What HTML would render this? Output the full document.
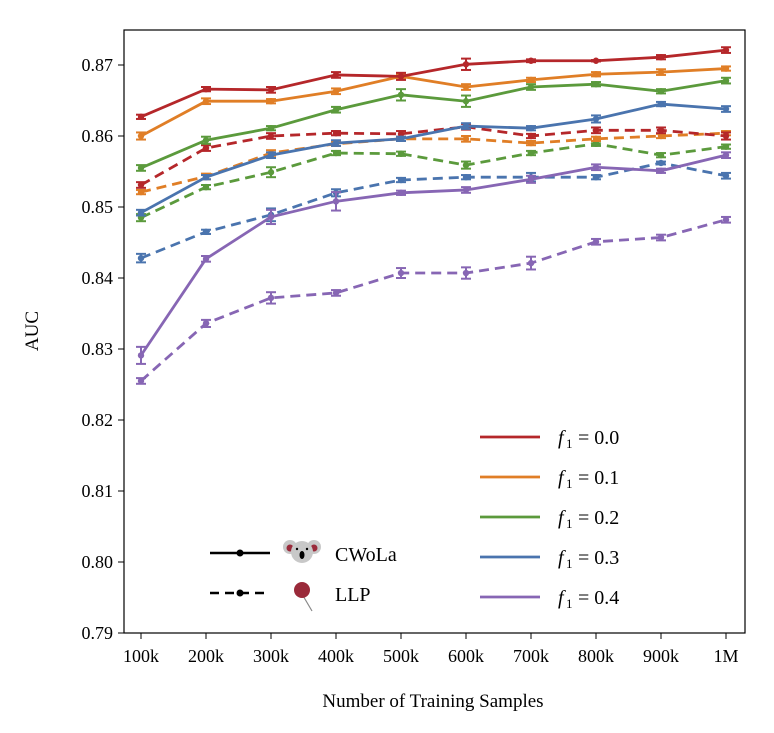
<!DOCTYPE html>
<html><head><meta charset="utf-8"><style>
html,body{margin:0;padding:0;background:#fff;}
svg{display:block;font-family:"Liberation Serif",serif;}
</style></head><body>
<svg id="chart" width="774" height="733">
<rect x="0" y="0" width="774" height="733" fill="#fff"/>
<g id="marks"></g>
<rect x="124" y="30" width="621" height="603" fill="none" stroke="#000" stroke-width="1.2"/>
<g id="axes" font-size="18"></g>
<text x="433" y="707" font-size="19" text-anchor="middle">Number of Training Samples</text>
<text transform="translate(38,331) rotate(-90)" font-size="19" text-anchor="middle">AUC</text>
<g id="legend" font-size="20"></g>
<g>
  <line x1="210" y1="553" x2="270" y2="553" stroke="#000" stroke-width="2.5"/>
  <circle cx="240" cy="553" r="3.5" fill="#000"/>
  <line x1="210" y1="593" x2="270" y2="593" stroke="#000" stroke-width="2.5" stroke-dasharray="9,6"/>
  <circle cx="240" cy="593" r="3.5" fill="#000"/>
  <g>
    <circle cx="290" cy="547" r="7" fill="#c8c8c8"/><circle cx="314" cy="547" r="7" fill="#c8c8c8"/>
    <circle cx="290" cy="548" r="3.5" fill="#9a2a3a"/><circle cx="314" cy="548" r="3.5" fill="#9a2a3a"/>
    <ellipse cx="302" cy="552" rx="11" ry="11" fill="#c8c8c8"/>
    <circle cx="297" cy="549" r="1.2" fill="#000"/><circle cx="307" cy="549" r="1.2" fill="#000"/>
    <ellipse cx="302" cy="555" rx="2.5" ry="4" fill="#000"/>
  </g>
  <g>
    <line x1="302" y1="594" x2="312" y2="611" stroke="#888" stroke-width="1.2"/>
    <circle cx="302" cy="590" r="8" fill="#9a2a3a"/>
  </g>
  <text x="335" y="561" font-size="20">CWoLa</text>
  <text x="335" y="601" font-size="20">LLP</text>
</g>
<script>
const categories=["100k","200k","300k","400k","500k","600k","700k","800k","900k","1M"];
const yTicks=[0.79,0.80,0.81,0.82,0.83,0.84,0.85,0.86,0.87];
const seriesNames=["0.0","0.1","0.2","0.3","0.4"];
const colors=["#b5272a","#e07e26","#5b9a3c","#4a74ae","#8766b4"];
const cwola0=[0.8627,0.8666,0.8665,0.8686,0.8684,0.8701,0.8706,0.8706,0.8711,0.8721];
const cwola1=[0.8600,0.8649,0.8649,0.8663,0.8684,0.8669,0.8679,0.8687,0.8690,0.8695];
const cwola2=[0.8555,0.8594,0.8611,0.8637,0.8658,0.8649,0.8669,0.8673,0.8663,0.8678];
const cwola3=[0.8492,0.8542,0.8573,0.8590,0.8596,0.8614,0.8611,0.8624,0.8645,0.8638];
const cwola4=[0.8291,0.8427,0.8486,0.8508,0.8520,0.8524,0.8539,0.8556,0.8551,0.8573];
const llp0=[0.8531,0.8583,0.8600,0.8604,0.8603,0.8613,0.8600,0.8608,0.8608,0.8600];
const llp1=[0.8521,0.8543,0.8576,0.8589,0.8596,0.8596,0.8590,0.8596,0.8600,0.8604];
const llp2=[0.8485,0.8528,0.8549,0.8576,0.8575,0.8559,0.8576,0.8589,0.8573,0.8585];
const llp3=[0.8428,0.8465,0.8489,0.8520,0.8538,0.8542,0.8542,0.8542,0.8562,0.8544];
const llp4=[0.8255,0.8336,0.8372,0.8379,0.8407,0.8407,0.8421,0.8451,0.8457,0.8482];
const cwolaErr=[[0.0003,0.0003,0.0004,0.0004,0.0005,0.0008,0.0002,0.0001,0.0003,0.0004],
[0.0005,0.0004,0.0003,0.0004,0.0003,0.0004,0.0003,0.0003,0.0004,0.0003],
[0.0004,0.0005,0.0003,0.0004,0.0008,0.0008,0.0004,0.0003,0.0003,0.0004],
[0.0004,0.0003,0.0004,0.0004,0.0003,0.0004,0.0003,0.0005,0.0003,0.0004],
[0.0012,0.0004,0.0010,0.0013,0.0003,0.0004,0.0005,0.0004,0.0003,0.0004]];
const llpErr=[[0.0004,0.0004,0.0004,0.0003,0.0004,0.0004,0.0003,0.0004,0.0004,0.0005],
[0.0003,0.0004,0.0004,0.0003,0.0003,0.0004,0.0003,0.0003,0.0003,0.0003],
[0.0005,0.0003,0.0007,0.0003,0.0003,0.0005,0.0003,0.0003,0.0003,0.0003],
[0.0006,0.0003,0.0009,0.0005,0.0003,0.0003,0.0006,0.0003,0.0002,0.0004],
[0.0004,0.0005,0.0008,0.0004,0.0007,0.0008,0.0009,0.0004,0.0004,0.0004]];
const cwola=[cwola0,cwola1,cwola2,cwola3,cwola4];
const llp=[llp0,llp1,llp2,llp3,llp4];
const NS="http://www.w3.org/2000/svg";
const xs=i=>141+i*65;
const ys=v=>65+(0.87-v)*7100;
function mk(tag,attrs,parent){const e=document.createElementNS(NS,tag);for(const k in attrs)e.setAttribute(k,attrs[k]);parent.appendChild(e);return e;}
const axes=document.getElementById('axes');
categories.forEach((c,i)=>{
  const t=mk('line',{x1:xs(i),x2:xs(i),y1:633,y2:639,stroke:'#000'},axes);
  
  
  const l=mk('text',{x:xs(i),y:662,'text-anchor':'middle'},axes);l.textContent=c;
  
  
});
yTicks.forEach(v=>{
  const t=mk('line',{x1:118,x2:124,y1:ys(v),y2:ys(v),stroke:'#000'},axes);
  
  
  const l=mk('text',{x:113,y:ys(v)+6,'text-anchor':'end'},axes);l.textContent=v.toFixed(2);
  
  
});
const marks=document.getElementById('marks');
function draw(vals,errs,color,dashed,name){
  const g=mk('g',{},marks);
  
  
  vals.forEach((v,i)=>{
    const e=errs[i],x=xs(i);
    mk('line',{x1:x,x2:x,y1:ys(v-e),y2:ys(v+e),stroke:color,'stroke-width':2},g);
    mk('line',{x1:x-5,x2:x+5,y1:ys(v-e),y2:ys(v-e),stroke:color,'stroke-width':2},g);
    mk('line',{x1:x-5,x2:x+5,y1:ys(v+e),y2:ys(v+e),stroke:color,'stroke-width':2},g);
  });
  const a={points:vals.map((v,i)=>xs(i)+','+ys(v)).join(' '),fill:'none',stroke:color,'stroke-width':2.8};
  if(dashed)a['stroke-dasharray']='10,6';
  mk('polyline',a,g);
  vals.forEach((v,i)=>mk('circle',{cx:xs(i),cy:ys(v),r:3.2,fill:color},g));
}
for(let k=4;k>=0;k--){draw(llp[k],llpErr[k],colors[k],true,'llp-line-f'+k);}
for(let k=4;k>=0;k--){draw(cwola[k],cwolaErr[k],colors[k],false,'cwola-line-f'+k);}
const lg=document.getElementById('legend');
seriesNames.forEach((s,k)=>{
  const y=437+k*40;
  const g=mk('g',{},lg);
  
  
  mk('line',{x1:480,x2:540,y1:y,y2:y,stroke:colors[k],'stroke-width':2.8},g);
  const f=mk('text',{x:558,y:y+7,'font-size':20,'font-style':'italic'},g);
  f.textContent='f';
  const sub=mk('text',{x:566,y:y+11,'font-size':13},g);
  sub.textContent='1';
  const rest=mk('text',{x:578,y:y+7,'font-size':20},g);
  rest.textContent='= '+s;
});
</script>
</svg>
</body></html>
